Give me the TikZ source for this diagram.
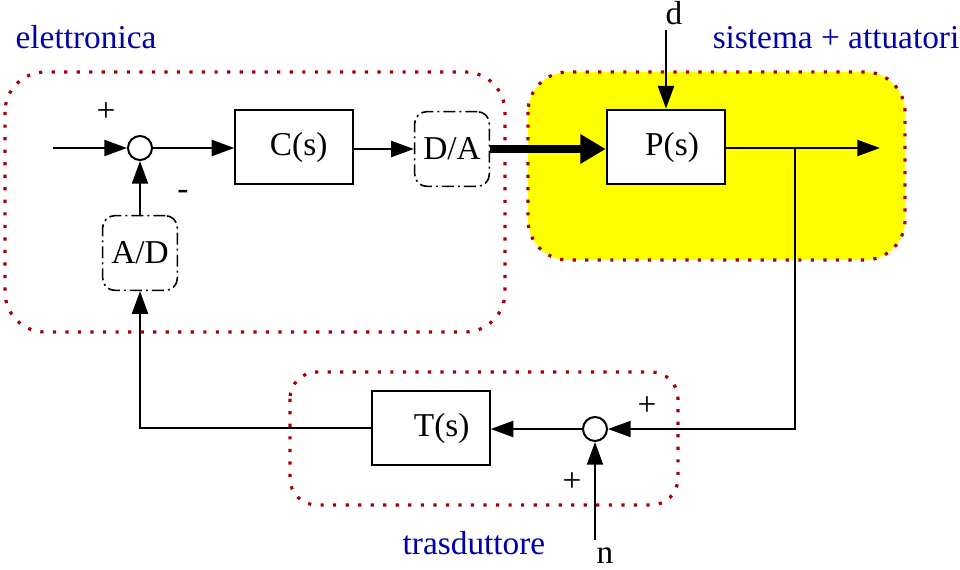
\documentclass[tikz,border=0pt]{standalone}
\usepackage{fontspec}
\setmainfont{Liberation Serif}
\usetikzlibrary{arrows.meta}
\definecolor{dotred}{RGB}{165,0,10}
\definecolor{lblue}{RGB}{0,0,170}
\definecolor{ylw}{RGB}{255,255,0}
\begin{document}
\begin{tikzpicture}[x=0.75pt,y=-0.75pt,
  font=\fontsize{25}{29}\selectfont,
  wire/.style={line width=1.5pt},
  arr/.style={wire,-{Triangle[length=17pt,width=12pt]}},
  bigarr/.style={line width=6.5pt,-{Triangle[length=19pt,width=21pt]}},
  blk/.style={draw,line width=1.5pt,minimum width=88pt,minimum height=56pt,inner sep=0pt},
  conv/.style={draw,line width=1.2pt,rounded corners=9pt,dash pattern=on 9pt off 3pt on 1.5pt off 3pt,minimum width=56pt,minimum height=56pt,inner sep=0pt},
  sumj/.style={draw,circle,line width=1.5pt,minimum size=18pt,inner sep=0pt},
  region/.style={dotred,line width=2.4pt,dash pattern=on 2.4pt off 7pt},
  lbl/.style={inner sep=0pt,anchor=base},
  grp/.style={lbl,text=lblue}]

\useasboundingbox (0,0) rectangle (960,570);
\fill[white] (0,0) rectangle (960,570);

% regions
\draw[region,rounded corners=30pt] (5,72) rectangle (505,332);
\filldraw[region,fill=ylw,rounded corners=30pt] (528,72) rectangle (905,260);
\draw[region,rounded corners=20pt] (290,372) rectangle (678,505);

% blocks
\node[sumj] (s1) at (140,148) {};
\node[blk] (C) at (294,147) {\raisebox{-5pt}{\hspace*{7pt}C(s)}};
\node[conv] (DA) at (452,149) {D/A};
\node[blk,fill=white,minimum width=89pt] (P) at (666,147) {\raisebox{-5pt}{\hspace*{9pt}P(s)}};
\node[conv] (AD) at (140,253) {\raisebox{-2pt}{A/D}};
\node[blk] (T) at (431,428) {\raisebox{-5pt}{\hspace*{16pt}T(s)}};
\node[sumj,fill=white] (s2) at (595,429) {};

% free ends
\coordinate (in) at (53,148);
\coordinate (dtop) at (666,30);
\coordinate (out) at (880,148);
\coordinate (br) at (795,148);
\coordinate (ntop) at (595,540);

% connectors
\draw[arr] (in) -- (s1.west);
\draw[arr] (s1.east) -- (s1.east -| C.west);
\draw[arr] (C.east |- DA.west) -- (DA.west);
\draw[bigarr] (DA.east) -- (DA.east -| P.west);
\draw[arr] (dtop) -- (P.north);
\draw[arr] (P.east |- out) -- (out);
\draw[arr] (br) |- (s2.east);
\draw[arr] (ntop) -- (s2.south);
\draw[arr] (s2.west) -- (s2.west -| T.east);
\draw[arr] (T.west) -| (AD.south);
\draw[arr] (AD.north) -- (s1.south);

% signs and labels
\node[lbl] (p1) at (106,122) {+};
\node[lbl] (m1) at (183,200) {-};
\node[lbl] (p2) at (647,415) {+};
\node[lbl] (p3) at (572,491) {+};
\node[lbl] (d) at (674,25) {d};
\node[lbl] (n) at (605,563) {n};
\node[grp] (g1) at (86,49) {elettronica};
\node[grp] (g2) at (836,49) {sistema + attuatori};
\node[grp] (g3) at (474,554) {trasduttore};
\end{tikzpicture}
\end{document}
